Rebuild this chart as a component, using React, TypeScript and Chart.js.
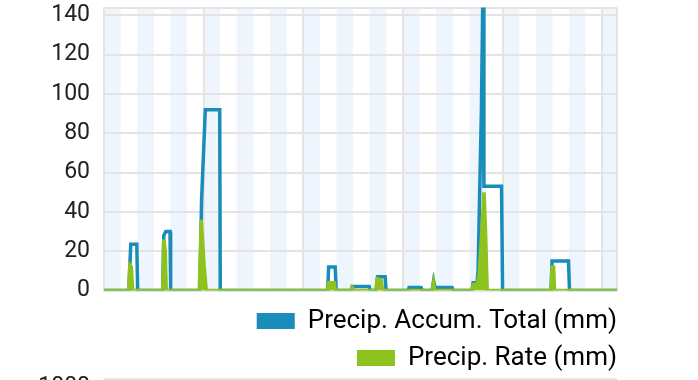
import React, { useEffect, useRef } from "react";
import { Chart, registerables } from "chart.js";

Chart.register(...registerables);

// x values are hours from the left edge of the plot
const X_MAX_HOURS = 123.56;
const BAND_HOURS = 4;

const accumLabel = "Precip. Accum. Total (mm)";
const accumX = [0, 5.97, 6.45, 7.9, 8.1, 14.15, 14.4, 14.9, 15.9, 16.05, 23.1, 23.5, 24.4, 27.87, 28.0, 53.87, 54.11, 55.68, 55.92, 59.53, 59.77, 63.86, 64.1, 65.55, 65.9, 67.71, 67.95, 73.25, 73.49, 76.38, 76.62, 79.02, 79.38, 79.75, 83.84, 84.08, 88.65, 88.89, 89.86, 90.1, 90.9, 91.3, 91.5, 95.75, 96.0, 107.67, 107.91, 111.88, 112.12, 123.56];
const accumY = [0, 0, 23.5, 23.5, 0, 0, 28, 30, 30, 0, 0, 46, 92, 92, 0, 0, 12, 12, 0, 0, 2, 2, 0, 0, 7, 7, 0, 0, 1.5, 1.5, 0, 0, 5, 1.5, 1.5, 0, 0, 4, 4, 10, 92, 160, 53, 53, 0, 0, 15, 15, 0, 0];

const rateLabel = "Precip. Rate (mm)";
const rateX = [0, 5.97, 6.21, 6.57, 6.93, 14.15, 14.39, 14.76, 15.0, 22.95, 23.42, 24.14, 24.63, 53.87, 54.11, 55.44, 55.68, 59.5, 59.77, 60.2, 65.5, 65.8, 66.8, 67.1, 79.0, 79.38, 79.6, 88.65, 88.89, 89.86, 90.34, 91.0, 91.54, 91.9, 92.3, 107.67, 107.91, 108.3, 108.51, 123.56];
const rateY = [0, 0, 13, 12, 0, 0, 26, 20, 0, 0, 36, 12, 0, 0, 4, 4, 0, 0, 1.5, 0, 0, 6, 5, 0, 0, 4, 0, 0, 3, 3, 8, 30, 50, 30, 0, 0, 12, 12, 0, 0];

const Y_MAX = 144;
const yTicks = [0, 20, 40, 60, 80, 100, 120, 140];
const xGridHours = [0, 24, 48, 72, 96, 120];

const BLUE = "#1a8cba";
const GREEN = "#8dc21f";
const STRIPE = "#eef5fc";
const GRID = "#e4e4e4";
const TEXT = "#222222";
const FONT = "Roboto";

const stripesPlugin = {
  id: "stripes",
  beforeDraw(chart: any) {
    const { ctx, chartArea, scales } = chart;
    const x = scales.x;
    ctx.save();
    ctx.fillStyle = STRIPE;
    for (let h = 0; h < x.max; h += BAND_HOURS * 2) {
      const x0 = x.getPixelForValue(h);
      const x1 = x.getPixelForValue(Math.min(h + BAND_HOURS, x.max));
      ctx.fillRect(x0, chartArea.top, x1 - x0, chartArea.bottom - chartArea.top);
    }
    ctx.restore();
  },
};

const LEGEND_PAD = 11;
const legendShiftPlugin = {
  id: "legendShift",
  afterLayout(chart: any) {
    const l = chart.legend;
    if (!l) return;
    l.left += LEGEND_PAD;
    l.right += LEGEND_PAD;
  },
};

export default function App() {
  const ref = useRef<HTMLCanvasElement | null>(null);

  useEffect(() => {
    if (!ref.current) return;
    const chart = new Chart(ref.current, {
      type: "line",
      data: {
        datasets: [
          {
            label: accumLabel,
            data: accumX.map((x, i) => ({ x, y: accumY[i] })),
            borderColor: BLUE,
            backgroundColor: BLUE,
            borderWidth: 3.5,
            pointRadius: 0,
            tension: 0,
            fill: false,
            order: 1,
          },
          {
            label: rateLabel,
            data: rateX.map((x, i) => ({ x, y: rateY[i] })),
            borderColor: GREEN,
            backgroundColor: GREEN,
            borderWidth: 3.5,
            pointRadius: 0,
            tension: 0,
            fill: "origin",
            order: 0,
          },
        ],
      },
      options: {
        responsive: false,
        animation: false,
        layout: { padding: { top: 7.5, left: 0, right: 81, bottom: 0 } },
        plugins: {
          tooltip: { enabled: false },
          legend: {
            position: "bottom",
            align: "end",
            fullSize: false,
            labels: {
              boxWidth: 38,
              boxHeight: 16,
              padding: LEGEND_PAD,
              color: TEXT,
              font: { family: FONT, size: 26 },
              generateLabels: (c: any) =>
                c.data.datasets.map((ds: any, i: number) => ({
                  text: ds.label,
                  fillStyle: ds.borderColor,
                  strokeStyle: ds.borderColor,
                  lineWidth: 0,
                  hidden: false,
                  datasetIndex: i,
                })),
            },
          },
        },
        scales: {
          x: {
            type: "linear",
            min: 0,
            max: X_MAX_HOURS,
            afterBuildTicks: (s: any) => {
              s.ticks = [...xGridHours, X_MAX_HOURS].map((v) => ({ value: v }));
            },
            ticks: { display: false },
            grid: { color: GRID, lineWidth: 2, drawTicks: false },
            border: { display: true, color: GRID, width: 2 },
            afterFit: (s: any) => {
              s.height = 6.5;
              s.paddingLeft = 0;
              s.paddingRight = 0;
            },
          },
          y: {
            min: 0,
            max: Y_MAX,
            afterBuildTicks: (s: any) => {
              s.ticks = [...yTicks, Y_MAX].map((v) => ({ value: v }));
            },
            ticks: {
              padding: 14,
              color: TEXT,
              font: { family: FONT, size: 23 },
              callback: (v: any) => (yTicks.includes(Number(v)) ? String(v) : ""),
            },
            grid: { color: GRID, lineWidth: 2, drawTicks: false },
            border: { display: true, color: GRID, width: 2 },
            afterFit: (s: any) => {
              s.width = 104;
              s.paddingTop = 0;
              s.paddingBottom = 0;
            },
          },
        },
      },
      plugins: [stripesPlugin, legendShiftPlugin],
    } as any);
    return () => chart.destroy();
  }, []);

  return (
    <div
      style={{
        position: "absolute",
        left: 0,
        top: 0,
        width: 698,
        height: 380,
        overflow: "hidden",
        background: "#ffffff",
      }}
    >
      <canvas ref={ref} width={698} height={381.5} style={{ display: "block" }} />
      <div
        style={{
          position: "absolute",
          left: 0,
          width: 90,
          top: 372,
          textAlign: "right",
          fontFamily: FONT,
          fontSize: 23,
          color: TEXT,
          lineHeight: "normal",
        }}
      >
        1000
      </div>
      <div
        style={{
          position: "absolute",
          left: 104,
          width: 513,
          top: 378,
          height: 2,
          background: GRID,
        }}
      />
    </div>
  );
}
